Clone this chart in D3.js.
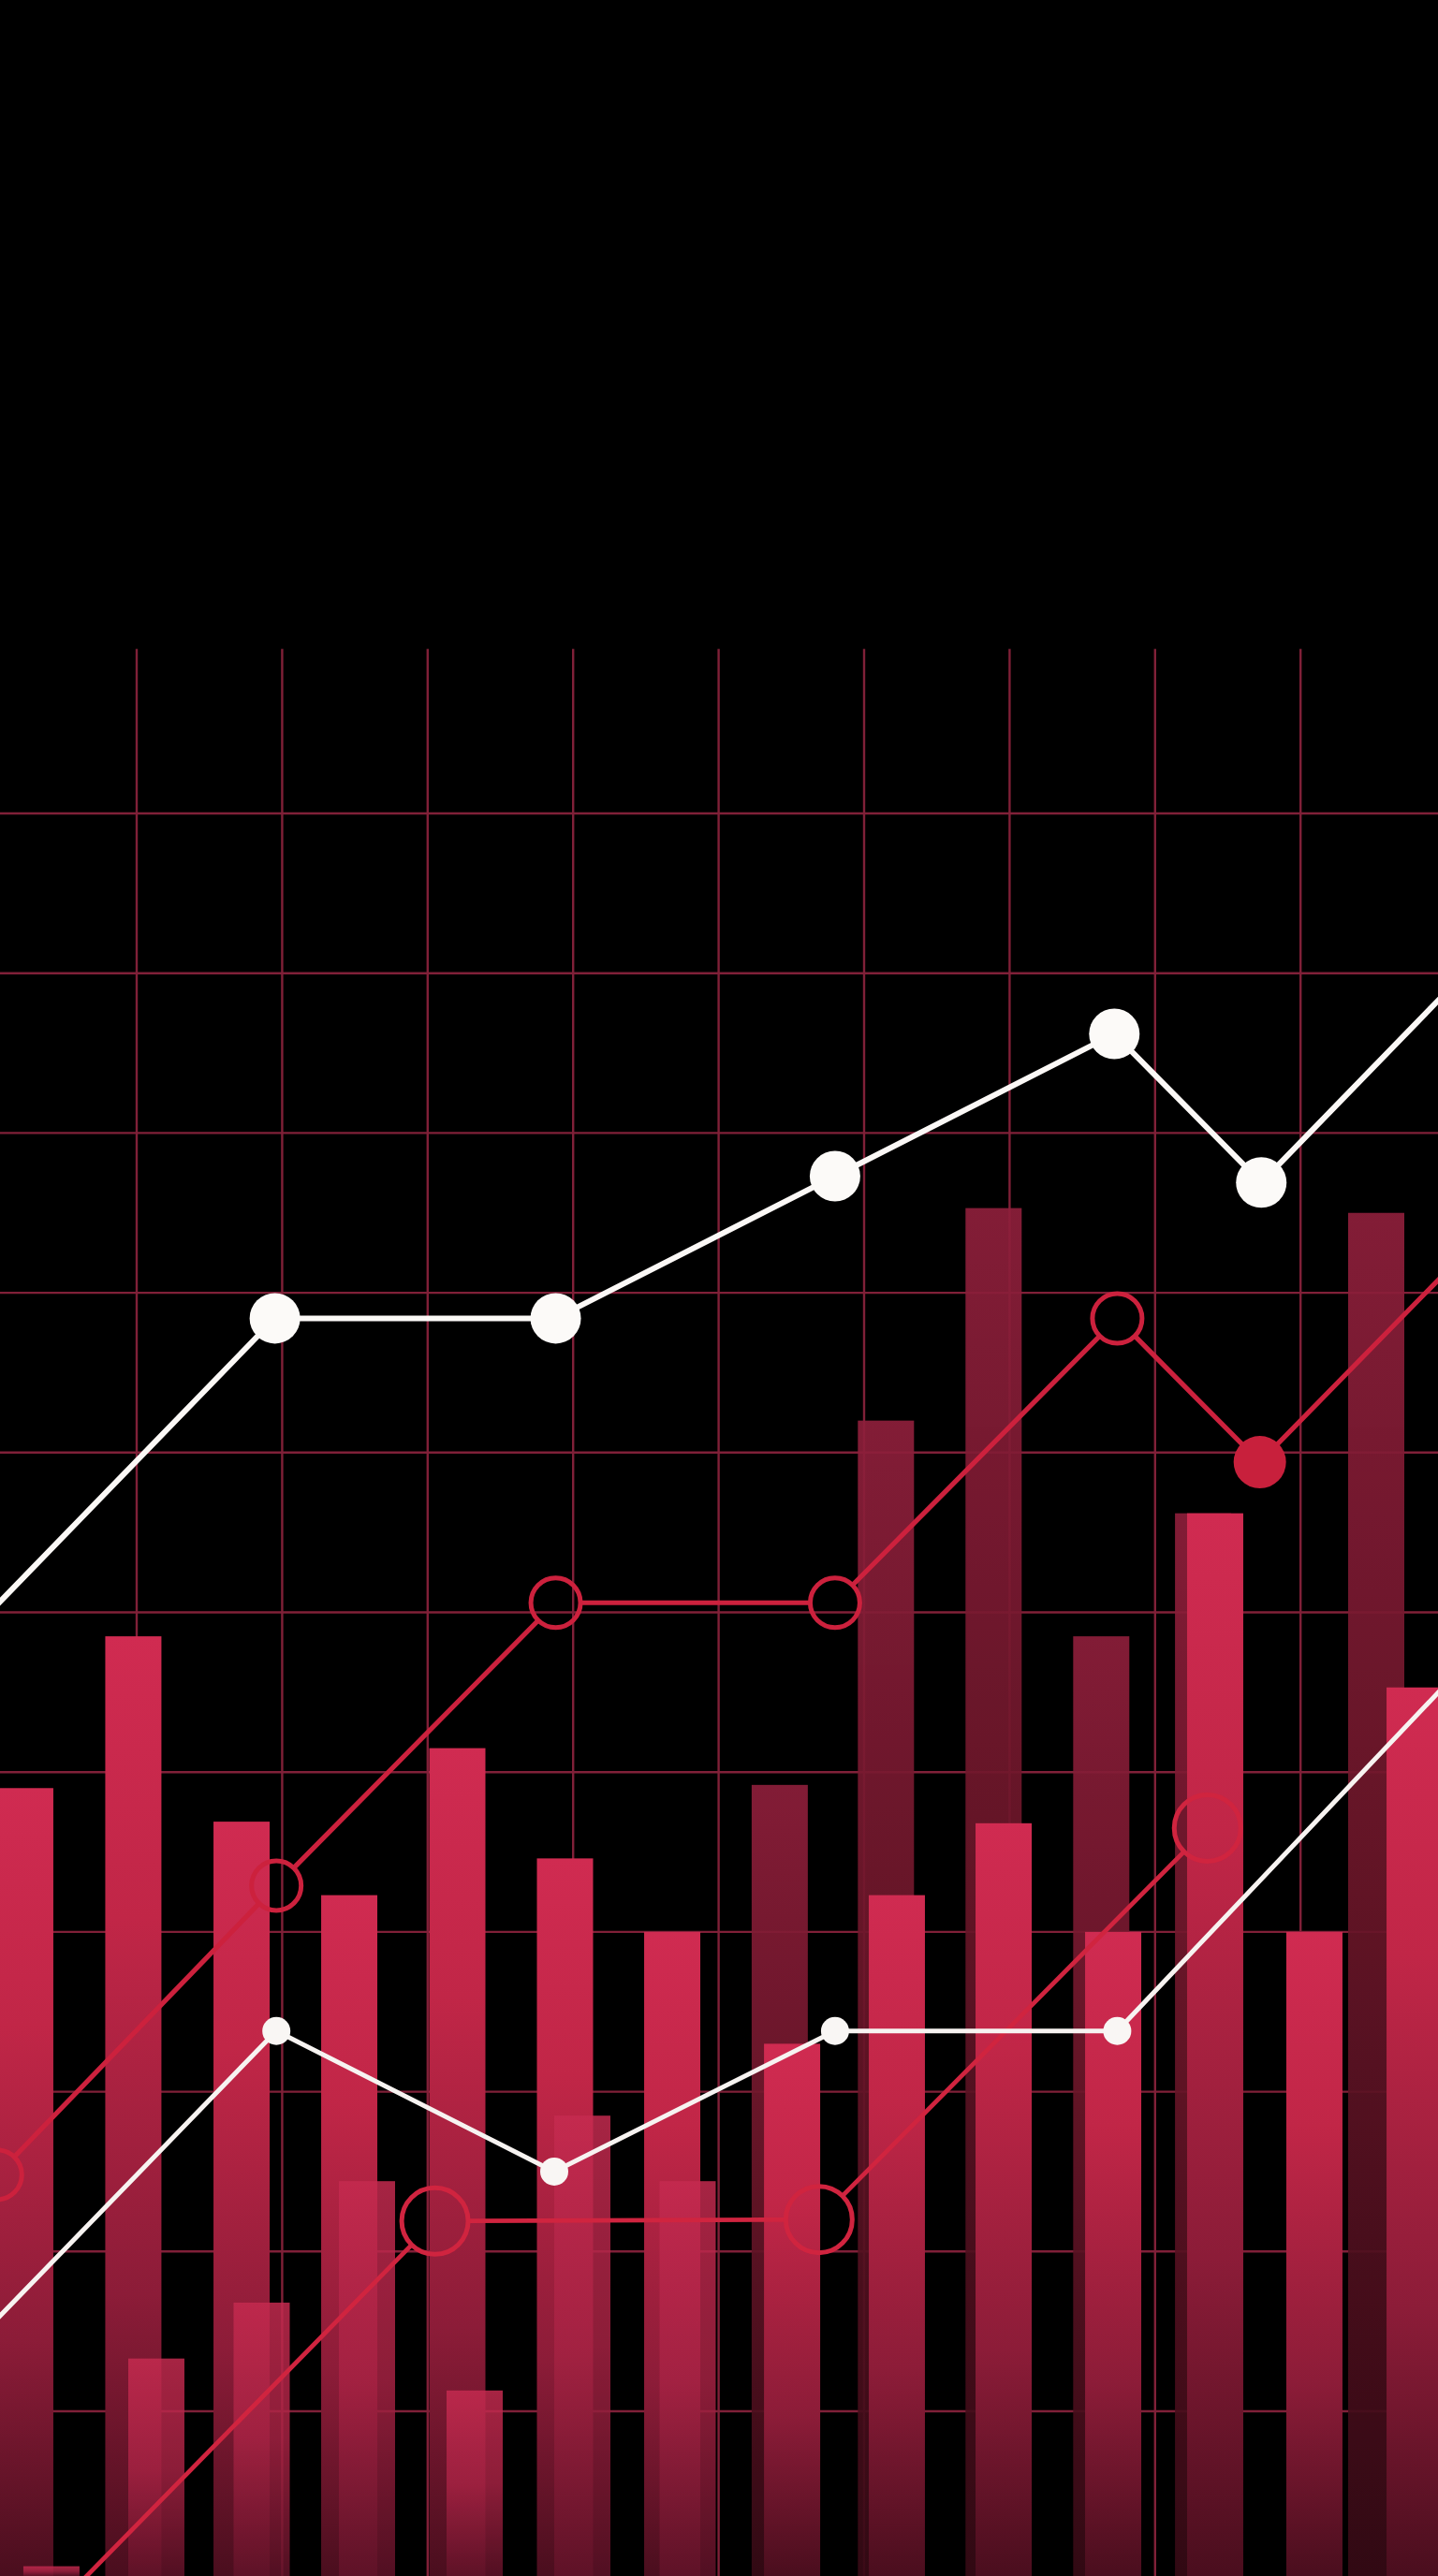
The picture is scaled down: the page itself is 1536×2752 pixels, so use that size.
<!DOCTYPE html>
<html><head><meta charset="utf-8">
<script src="https://cdn.jsdelivr.net/npm/d3@7"></script>
<style>html,body{margin:0;padding:0;background:#000;overflow:hidden}</style>
</head><body><div id="chart"></div>
<script>
// ---------- data (x in grid periods, y in value units) ----------
const gridXTicks = [1,2,3,4,5,6,7,8,9];
const gridYTicks = [10,20,30,40,50,60,70,80,90,100,110];
const gridTopValue = 120.3;

const backBarX  = [5.42, 6.15, 6.89, 7.63, 8.33, 9.52];
const backBarV  = [49.2, 72.0, 85.3, 58.5, 66.2, 85.0];
const frontBarX = [0.234, 0.977, 1.721, 2.461, 3.204, 3.944, 4.681, 5.505, 6.225, 6.959, 7.712, 8.413, 9.095, 9.784];
const frontBarV = [49.0, 58.5, 46.9, 42.3, 51.5, 44.6, 40.0, 33.0, 42.3, 46.8, 40.0, 66.2, 40.0, 55.3];
const lowBarX   = [0.414, 1.135, 1.859, 2.583, 3.323, 4.063, 4.787];
const lowBarV   = [0.3, 13.3, 16.8, 24.4, 11.3, 28.5, 24.4];

const whiteUpperX = [0, 1.95, 3.88, 5.80, 7.72, 8.73, 10];
const whiteUpperV = [60.1, 78.4, 78.4, 87.3, 96.2, 86.9, 98.8];
const whiteUpperMarked = [false, true, true, true, true, true, false];

const redUpperX = [0.04, 1.96, 3.88, 5.80, 7.74, 8.72, 10];
const redUpperV = [24.8, 42.9, 60.6, 60.6, 78.4, 69.4, 81.3];
const redUpperMarker = ["hollow","hollow","hollow","hollow","hollow","filled","none"];

const whiteLowerX = [0, 1.96, 3.87, 5.80, 7.74, 10];
const whiteLowerV = [15.4, 33.8, 25.0, 33.8, 33.8, 55.5];
const whiteLowerMarked = [false, true, true, true, true, false];

const redLowerX = [0, 3.05, 5.69, 8.36];
const redLowerV = [-6.4, 21.9, 22.0, 46.5];
const redLowerMarker = ["none","hollow","hollow","hollow"];

// ---------- layout ----------
const W = 1536, H = 2752;
const x = d3.scaleLinear().domain([0, 10]).range([-9.4, 1544.6]);
const y = d3.scaleLinear().domain([0, 120]).range([2746.7, 698.3]);
const barW = 0.386; // in x units

const svg = d3.select("#chart").append("svg")
  .attr("width", W).attr("height", H)
  .style("display","block").style("background","#000");

const defs = svg.append("defs");
function grad(id, stops){
  const g = defs.append("linearGradient").attr("id", id)
    .attr("x1",0).attr("y1",0).attr("x2",0).attr("y2",1);
  stops.forEach(s => g.append("stop").attr("offset", s[0]).attr("stop-color", s[1]));
}
grad("gFront", [[0,"#d02b51"],[0.3,"#c12647"],[0.7,"#8c1c38"],[1,"#4a0e1e"]]);
grad("gBack",  [[0,"#8e1f3b"],[0.5,"#6a1629"],[1,"#360a15"]]);
grad("gLow",   [[0,"#c62b50"],[0.5,"#a82344"],[1,"#621329"]]);

svg.append("rect").attr("width", W).attr("height", H).attr("fill", "#000");

// ---------- grid ----------
const grid = svg.append("g").attr("stroke", "#a12946").attr("stroke-width", 2.4).attr("opacity", 0.8);
grid.selectAll("line.v").data(gridXTicks).join("line").attr("class","v")
  .attr("x1", d => x(d)).attr("x2", d => x(d))
  .attr("y1", y(gridTopValue)).attr("y2", H);
grid.selectAll("line.h").data(gridYTicks).join("line").attr("class","h")
  .attr("x1", 0).attr("x2", W)
  .attr("y1", d => y(d)).attr("y2", d => y(d));

// ---------- bars ----------
function bars(cls, xs, vs, fill, opacity){
  const data = xs.map((d,i) => ({x:d, v:vs[i]}));
  svg.append("g").attr("opacity", opacity).selectAll("rect").data(data).join("rect")
    .attr("class", cls)
    .attr("x", d => x(d.x - barW/2))
    .attr("width", x(barW) - x(0))
    .attr("y", d => y(d.v))
    .attr("height", d => H - y(d.v))
    .attr("fill", fill);
}
bars("back", backBarX, backBarV, "url(#gBack)", 0.92);
bars("front", frontBarX, frontBarV, "url(#gFront)", 1);
bars("low", lowBarX, lowBarV, "url(#gLow)", 0.84);

// ---------- lines ----------
const line = d3.line().x(d => x(d.x)).y(d => y(d.v));
const zip = (xs, vs) => xs.map((d,i) => ({x:d, v:vs[i], i}));

const wU = zip(whiteUpperX, whiteUpperV);
const rU = zip(redUpperX, redUpperV);
const wL = zip(whiteLowerX, whiteLowerV);
const rL = zip(redLowerX, redLowerV);

const rUHollowR = 26.5, rLHollowR = 35.5, ringW = 5;

// mask hiding line segments inside hollow rings
const mask = defs.append("mask").attr("id","holes").attr("maskUnits","userSpaceOnUse")
  .attr("x",0).attr("y",0).attr("width",W).attr("height",H);
mask.append("rect").attr("width",W).attr("height",H).attr("fill","#fff");
const holes = rU.filter(d => redUpperMarker[d.i]==="hollow").map(d => ({...d, r:rUHollowR}))
  .concat(rL.filter(d => redLowerMarker[d.i]==="hollow").map(d => ({...d, r:rLHollowR})));
mask.selectAll("circle").data(holes).join("circle")
  .attr("cx", d => x(d.x)).attr("cy", d => y(d.v)).attr("r", d => d.r).attr("fill","#000");

const redG = svg.append("g").attr("mask","url(#holes)");
redG.append("path").datum(rL).attr("d", line).attr("fill","none")
  .attr("stroke","#d0243f").attr("stroke-width",4.8).attr("stroke-linejoin","round");
redG.append("path").datum(rU).attr("d", line).attr("fill","none")
  .attr("stroke","#cc213d").attr("stroke-width",5.2).attr("stroke-linejoin","round");

svg.append("path").datum(wL).attr("d", line).attr("fill","none")
  .attr("stroke","#f7f3f1").attr("stroke-width",5).attr("stroke-linejoin","round");
svg.append("path").datum(wU).attr("d", line).attr("fill","none")
  .attr("stroke","#fbf8f6").attr("stroke-width",6).attr("stroke-linejoin","round");

// markers
svg.append("g").selectAll("circle").data(rL.filter(d => redLowerMarker[d.i]==="hollow")).join("circle")
  .attr("cx", d => x(d.x)).attr("cy", d => y(d.v)).attr("r", rLHollowR)
  .attr("fill","none").attr("stroke","#d0243f").attr("stroke-width",ringW);
svg.append("g").selectAll("circle").data(rU.filter(d => redUpperMarker[d.i]==="hollow")).join("circle")
  .attr("cx", d => x(d.x)).attr("cy", d => y(d.v)).attr("r", rUHollowR)
  .attr("fill","none").attr("stroke","#cc213d").attr("stroke-width",ringW);
svg.append("g").selectAll("circle").data(rU.filter(d => redUpperMarker[d.i]==="filled")).join("circle")
  .attr("cx", d => x(d.x)).attr("cy", d => y(d.v)).attr("r", 28)
  .attr("fill","#c8203c");
svg.append("g").selectAll("circle").data(wL.filter(d => whiteLowerMarked[d.i])).join("circle")
  .attr("cx", d => x(d.x)).attr("cy", d => y(d.v)).attr("r", 15)
  .attr("fill","#f9f6f4");
svg.append("g").selectAll("circle").data(wU.filter(d => whiteUpperMarked[d.i])).join("circle")
  .attr("cx", d => x(d.x)).attr("cy", d => y(d.v)).attr("r", 27)
  .attr("fill","#fcfaf8");
</script>
</body></html>
